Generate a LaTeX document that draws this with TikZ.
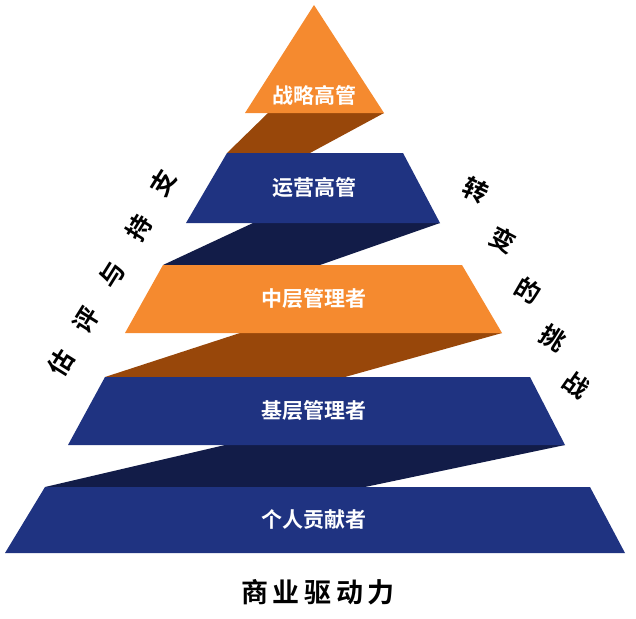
\documentclass[tikz,border=0pt]{standalone}
\usepackage{fontspec}
\newfontfamily\cjk{Noto Sans CJK SC Bold}
\definecolor{org}{HTML}{F58A2F}
\definecolor{orgd}{HTML}{98470A}
\definecolor{navy}{HTML}{1F3381}
\definecolor{navyd}{HTML}{121C48}
\begin{document}
\begin{tikzpicture}[x=1pt,y=-1pt,
  lab/.style={text=white,font=\cjk\fontsize{21}{21}\selectfont},
  side/.style={font=\cjk\fontsize{25}{25}\selectfont}]
\useasboundingbox (0,0) rectangle (636,618);
% bands
\fill[orgd] (268,113)--(384,113)--(310,153)--(227,153)--cycle;
\fill[navyd] (253,223)--(440,223)--(320,265)--(163,265)--cycle;
\fill[orgd] (240,333)--(502,333)--(345,377)--(105,377)--cycle;
\fill[navyd] (225,445)--(565,445)--(365,487)--(45,487)--cycle;
% layers
\fill[org] (314,5)--(384,113)--(245,113)--cycle;
\fill[navy] (227,153)--(403,153)--(440,223)--(186,223)--cycle;
\fill[org] (163,265)--(462,265)--(502,333)--(125,333)--cycle;
\fill[navy] (105,377)--(530,377)--(565,445)--(68,445)--cycle;
\fill[navy] (45,487)--(590,487)--(625,553)--(5,553)--cycle;
\node[lab] (l1) at (314,95) {战略高管};
\node[lab] (l2) at (314,188) {运营高管};
\node[lab] (l3) at (314,299) {中层管理者};
\node[lab] (l4) at (314,411) {基层管理者};
\node[lab] (l5) at (314,520) {个人贡献者};
\node[font=\cjk\fontsize{27}{27}\selectfont] (t) at (318,592) {商\,业\,驱\,动\,力};
\node[side,rotate=58] (a1) at (163,183) {支};
\node[side,rotate=58] (a2) at (139,228) {持};
\node[side,rotate=58] (a3) at (112,275) {与};
\node[side,rotate=58] (a4) at (86,320) {评};
\node[side,rotate=58] (a5) at (61,363) {估};
\node[side,rotate=-25] (b1) at (476,190) {转};
\node[side,rotate=-28] (b2) at (503,240) {变};
\node[side,rotate=-30] (b3) at (528,290) {的};
\node[side,rotate=-32] (b4) at (553,338) {挑};
\node[side,rotate=-35] (b5) at (576,385) {战};
\end{tikzpicture}
\end{document}
